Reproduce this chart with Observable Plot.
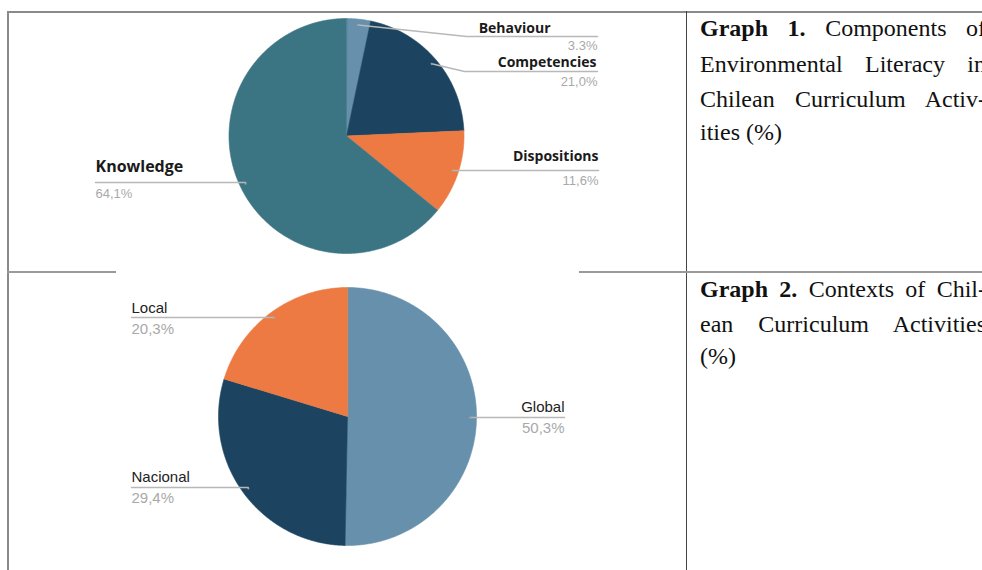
<!DOCTYPE html>
<html>
<head>
<meta charset="utf-8">
<script src="https://cdn.jsdelivr.net/npm/d3@7"></script>
<script src="https://cdn.jsdelivr.net/npm/@observablehq/plot@0.6"></script>
<style>
  html, body { margin: 0; padding: 0; background: #fff; width: 982px; height: 570px; overflow: hidden; }
  #wrap { position: relative; width: 982px; height: 570px; overflow: hidden; }
  #chart { position: absolute; left: 0; top: 0; }
  .rule { position: absolute; }
  .cap { position: absolute; left: 700px; width: 286px; font-family: "Liberation Serif", "Times New Roman", serif;
         font-size: 24px; line-height: 24px; color: #111; text-align: justify; text-align-last: justify; }
  .cap.left { text-align-last: left; }
  .cap b { font-weight: bold; }
</style>
</head>
<body>
<div id="wrap">
  <div id="chart"></div>
  <div class="rule" style="left:7px;top:11px;width:975px;height:1.5px;background:#8a8a8a"></div>
  <div class="rule" style="left:7px;top:11px;width:1.5px;height:559px;background:#8a8a8a"></div>
  <div class="rule" style="left:686px;top:11px;width:1px;height:559px;background:#444"></div>
  <div class="rule" style="left:7px;top:271px;width:109px;height:1.5px;background:#9a9a9a"></div>
  <div class="rule" style="left:579px;top:271px;width:403px;height:1.5px;background:#9a9a9a"></div>

  <div class="cap" style="top:16px"><b>Graph 1.</b> Components of</div>
  <div class="cap" style="top:52px">Environmental Literacy in</div>
  <div class="cap" style="top:87px">Chilean Curriculum Activ-</div>
  <div class="cap left" style="top:120px">ities (%)</div>

  <div class="cap" style="top:277px"><b>Graph 2.</b> Contexts of Chil-</div>
  <div class="cap" style="top:312px">ean Curriculum Activities</div>
  <div class="cap left" style="top:344px">(%)</div>
</div>
<script>
// ---------- data ----------
const components = ["Behaviour", "Competencies", "Dispositions", "Knowledge"];
const componentValues = [3.3, 21.0, 11.6, 64.1];
const componentLabels = ["3.3%", "21,0%", "11,6%", "64,1%"];

const contexts = ["Global", "Nacional", "Local"];
const contextValues = [50.3, 29.4, 20.3];
const contextLabels = ["50,3%", "29,4%", "20,3%"];

// ---------- styles / layout ----------
const palette1 = ["#6690ab", "#1c4460", "#ec7a42", "#3b7583"];
const palette2 = ["#6690ab", "#1c4460", "#ec7a42"];

const pie1 = {cx: 346, cy: 135.5, r: 117.5};
const pie2 = {cx: 347, cy: 416, r: 129};

// label placement for each slice (same order as the data)
const layout1 = [
  {anchor: "end",   lineY: 36,  elbowX: 466, endX: 597, nameX: 550, nameDy: -8,  pctDy: 9},
  {anchor: "end",   lineY: 71,  elbowX: 464, endX: 597, nameX: 596, nameDy: -9, pctDy: 10},
  {anchor: "end",   lineY: 170, elbowX: null, endX: 598, nameX: 598, nameDy: -14, pctDy: 10},
  {anchor: "start", lineY: 182, elbowX: null, endX: 95,  nameX: 95,  nameDy: -16, pctDy: 11}
];
const layout2 = [
  {anchor: "end",   lineY: 417, elbowX: null, endX: 564, nameX: 564, nameDy: -10, pctDy: 11},
  {anchor: "start", lineY: 487, elbowX: null, endX: 131, nameX: 131, nameDy: -10, pctDy: 11},
  {anchor: "start", lineY: 317, elbowX: null, endX: 131, nameX: 131, nameDy: -9,  pctDy: 12}
];

// ---------- geometry derived from data ----------
function pieGeometry(names, values, pcts, pie, layout) {
  const total = d3.sum(values);
  let acc = 0;
  const poly = [], leaders = [], dots = [], labels = [];
  names.forEach((n, i) => {
    const a0 = acc / total * 2 * Math.PI;
    acc += values[i];
    const a1 = acc / total * 2 * Math.PI;
    const steps = Math.max(2, Math.ceil((a1 - a0) / (Math.PI / 360)));
    poly.push({key: n, x: pie.cx, y: pie.cy});
    for (let s = 0; s <= steps; s++) {
      const a = a0 + (a1 - a0) * s / steps;
      poly.push({key: n, x: pie.cx + pie.r * Math.sin(a), y: pie.cy - pie.r * Math.cos(a)});
    }
    const am = (a0 + a1) / 2;
    const L = layout[i];
    const dx = pie.cx + 0.95 * pie.r * Math.sin(am);
    const dy = pie.cy - 0.95 * pie.r * Math.cos(am);
    dots.push({x: dx, y: dy});
    if (L.elbowX != null) {
      leaders.push({key: n, x: dx, y: dy});
      leaders.push({key: n, x: L.elbowX, y: L.lineY});
    } else {
      leaders.push({key: n, x: dx, y: L.lineY});
    }
    leaders.push({key: n, x: L.endX, y: L.lineY});
    labels.push({name: n, pct: pcts[i], x: L.endX, nameX: L.nameX, anchor: L.anchor,
                 nameY: L.lineY + L.nameDy, pctY: L.lineY + L.pctDy});
  });
  return {poly, leaders, dots, labels};
}

const g1 = pieGeometry(components, componentValues, componentLabels, pie1, layout1);
const g2 = pieGeometry(contexts, contextValues, contextLabels, pie2, layout2);

const textMarks = (labels, opts) => ["start", "end"].flatMap(anchor => {
  const sub = labels.filter(d => d.anchor === anchor);
  return [
    Plot.text(sub, {x: "nameX", y: "nameY", text: "name", textAnchor: anchor,
      fontFamily: opts.nameFont, fontWeight: opts.nameWeight, fontSize: d => opts.nameSize(d), fill: opts.nameColor}),
    Plot.text(sub, {x: "x", y: "pctY", text: "pct", textAnchor: anchor,
      fontFamily: opts.pctFont, fontSize: opts.pctSize, fill: opts.pctColor})
  ];
});

const chart = Plot.plot({
  width: 982,
  height: 570,
  margin: 0,
  style: {background: "transparent", overflow: "visible"},
  x: {domain: [0, 982], range: [0, 982], axis: null},
  y: {domain: [0, 570], range: [0, 570], axis: null},
  color: {domain: [...components, ...contexts], range: [...palette1, ...palette2]},
  marks: [
    Plot.line([...g1.poly, ...g2.poly], {x: "x", y: "y", z: "key", fill: "key", stroke: "key",
      strokeWidth: 0.6, curve: "linear-closed"}),
    Plot.line([...g1.leaders, ...g2.leaders], {x: "x", y: "y", z: "key", stroke: "#b8b8b8", strokeWidth: 1.5}),
    Plot.dot([...g1.dots, ...g2.dots], {x: "x", y: "y", r: 1, fill: "#a0a0a0", stroke: null}),
    ...textMarks(g1.labels, {
      nameFont: "'Open Sans', sans-serif", nameWeight: "bold",
      nameSize: d => d.name === "Knowledge" ? 16 : 14, nameColor: "#1a1a1a",
      pctFont: "'Liberation Sans', Arial, sans-serif", pctSize: 13, pctColor: "#a9a9a9"
    }),
    ...textMarks(g2.labels, {
      nameFont: "'Liberation Sans', Arial, sans-serif", nameWeight: "normal",
      nameSize: () => 15, nameColor: "#222",
      pctFont: "'Liberation Sans', Arial, sans-serif", pctSize: 15, pctColor: "#a9a9a9"
    })
  ]
});
document.getElementById("chart").appendChild(chart);
</script>
</body>
</html>
